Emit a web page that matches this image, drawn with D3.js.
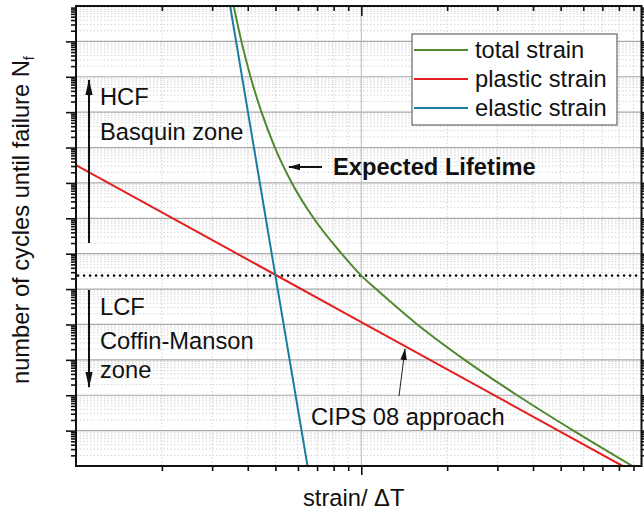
<!DOCTYPE html>
<html><head><meta charset="utf-8">
<script src="https://cdn.jsdelivr.net/npm/d3@7"></script>
<style>body{margin:0;background:#fff}svg{display:block}text{font-family:"Liberation Sans",Arial,sans-serif;fill:#111}</style>
</head><body><svg id="c" width="644" height="512"></svg>
<script>
// ---- data (arbitrary log units, no tick labels) ----
const plasticStrain = [0.1, 1, 8.24];
const plasticCycles = [3.2e8, 1.17e4, 1];
const elasticStrain = [0.347, 0.5, 0.648];
const elasticCycles = [1e13, 2.4e5, 1];
const totalStrain = [0.357, 0.380, 0.409, 0.447, 0.498, 0.571, 0.681, 0.853, 1.0, 1.127, 1.572, 2.304, 3.519, 5.541, 8.92];
const totalCycles = [1e13, 1e12, 1e11, 1e10, 1e9, 1e8, 1e7, 1e6, 2.4e5, 1e5, 1e4, 1e3, 1e2, 1e1, 1];
const thresholdCycles = 2.4e5;
const seriesNames = ["total strain", "plastic strain", "elastic strain"];
const seriesColors = ["#4f8a31", "#e3201f", "#1a7d9e"];

const FS = 23.7;
const svg = d3.select("#c");
const L = 76, R = 641.5, T = 6, B = 466;
const x = d3.scaleLog().domain([0.1, 9.6]).range([L, R]);
const y = d3.scaleLog().domain([1, 1e13]).range([B, T]);

const isPow = v => Math.abs(Math.log10(v) - Math.round(Math.log10(v))) < 1e-9;
const xAll = x.ticks(20).filter(v => v > 0.1 && v < 9.6);
const xMajor = xAll.filter(isPow);
const xMinor = xAll.filter(v => !isPow(v));
const yAll = y.ticks(20);
const yMajor = yAll.filter(v => isPow(v) && v > 1 && v < 1e13);
const yMinor = yAll.filter(v => !isPow(v));

// minor grid
const g = svg.append("g");
g.selectAll(".hmin").data(yMinor).join("line")
  .attr("x1", L).attr("x2", R).attr("y1", d => y(d)).attr("y2", d => y(d))
  .attr("stroke", "#d4d4d4").attr("stroke-width", 1).attr("stroke-dasharray", "1.5,2");
g.selectAll(".vmin").data(xMinor).join("line")
  .attr("y1", T).attr("y2", B).attr("x1", d => x(d)).attr("x2", d => x(d))
  .attr("stroke", "#d4d4d4").attr("stroke-width", 1).attr("stroke-dasharray", "1.5,2");
// major grid
g.selectAll(".hmaj").data(yMajor).join("line")
  .attr("x1", L).attr("x2", R).attr("y1", d => y(d)).attr("y2", d => y(d))
  .attr("stroke", "#a8a8a8").attr("stroke-width", 1.2);
g.selectAll(".vmaj").data(xMajor).join("line")
  .attr("y1", T).attr("y2", B).attr("x1", d => x(d)).attr("x2", d => x(d))
  .attr("stroke", "#b8b8b8").attr("stroke-width", 1);

// clip
svg.append("clipPath").attr("id", "clip").append("rect")
  .attr("x", L).attr("y", T).attr("width", R - L).attr("height", B - T);
const plot = svg.append("g").attr("clip-path", "url(#clip)");

// threshold dotted line
plot.append("line").attr("x1", L + 2).attr("x2", R).attr("y1", y(thresholdCycles)).attr("y2", y(thresholdCycles))
  .attr("stroke", "#111").attr("stroke-width", 2.6).attr("stroke-linecap", "round")
  .attr("stroke-dasharray", "0.1,5.9");

const line = d3.line().x(d => x(d[0])).y(d => y(d[1])).curve(d3.curveMonotoneX);
const series = [
  d3.zip(totalStrain, totalCycles),
  d3.zip(plasticStrain, plasticCycles),
  d3.zip(elasticStrain, elasticCycles)
];
plot.selectAll(".s").data(series).join("path")
  .attr("d", line).attr("fill", "none")
  .attr("stroke", (d, i) => seriesColors[i]).attr("stroke-width", 2);

// axes (no labels)
svg.append("g").attr("transform", `translate(${L},0)`)
  .call(d3.axisLeft(y).tickValues(yMajor).tickSize(10).tickFormat(""))
  .call(a => a.select(".domain").remove());
svg.append("g").attr("transform", `translate(${L},0)`)
  .call(d3.axisLeft(y).tickValues(yMinor).tickSize(5).tickFormat(""))
  .call(a => a.select(".domain").remove());
svg.append("g").attr("transform", `translate(${R},0)`)
  .call(d3.axisLeft(y).tickValues(yMajor).tickSize(7).tickFormat(""))
  .call(a => a.select(".domain").remove()).selectAll("line").attr("x2", 7);
svg.append("g").attr("transform", `translate(${R},0)`)
  .call(d3.axisLeft(y).tickValues(yMinor).tickSize(4).tickFormat(""))
  .call(a => a.select(".domain").remove()).selectAll("line").attr("x2", 4);
svg.append("g").attr("transform", `translate(0,${B})`)
  .call(d3.axisBottom(x).tickValues(xMajor).tickSize(9).tickFormat(""))
  .call(a => a.select(".domain").remove());
svg.append("g").attr("transform", `translate(0,${B})`)
  .call(d3.axisBottom(x).tickValues(xMinor).tickSize(5).tickFormat(""))
  .call(a => a.select(".domain").remove());
svg.append("g").attr("transform", `translate(0,${T})`)
  .call(d3.axisBottom(x).tickValues(xMajor).tickSize(10).tickFormat(""))
  .call(a => a.select(".domain").remove());
svg.append("g").attr("transform", `translate(0,${T})`)
  .call(d3.axisBottom(x).tickValues(xMinor).tickSize(5).tickFormat(""))
  .call(a => a.select(".domain").remove());
svg.selectAll(".tick line").attr("stroke", "#111").attr("stroke-width", 1.6);

// frame
svg.append("rect").attr("x", L).attr("y", T).attr("width", R - L).attr("height", B - T)
  .attr("fill", "none").attr("stroke", "#111").attr("stroke-width", 2);

// legend
const lg = svg.append("g");
lg.append("rect").attr("x", 412).attr("y", 34).attr("width", 205).attr("height", 91)
  .attr("fill", "#fff").attr("stroke", "#666").attr("stroke-width", 1.2);
seriesNames.forEach((n, i) => {
  const ly = 50 + i * 29;
  lg.append("line").attr("x1", 414).attr("x2", 468).attr("y1", ly).attr("y2", ly)
    .attr("stroke", seriesColors[i]).attr("stroke-width", 2);
  lg.append("text").attr("x", 475).attr("y", ly + 7.5).attr("font-size", FS).text(n);
});

// markers
const defs = svg.append("defs");
defs.append("marker").attr("id", "ah").attr("markerUnits", "userSpaceOnUse")
  .attr("viewBox", "0 -5 16 10").attr("refX", 15).attr("refY", 0)
  .attr("markerWidth", 16).attr("markerHeight", 10).attr("orient", "auto")
  .append("path").attr("d", "M0,-3.6L16,0L0,3.6Z").attr("fill", "#111");
defs.append("marker").attr("id", "ah2").attr("markerUnits", "userSpaceOnUse")
  .attr("viewBox", "0 -4 12 8").attr("refX", 11).attr("refY", 0)
  .attr("markerWidth", 12).attr("markerHeight", 8).attr("orient", "auto")
  .append("path").attr("d", "M0,-3.2L12,0L0,3.2Z").attr("fill", "#111");

// annotations
svg.append("line").attr("x1", 89).attr("x2", 89).attr("y1", 243).attr("y2", 80)
  .attr("stroke", "#111").attr("stroke-width", 2).attr("marker-end", "url(#ah)");
svg.append("line").attr("x1", 89).attr("x2", 89).attr("y1", 290).attr("y2", 387)
  .attr("stroke", "#111").attr("stroke-width", 2).attr("marker-end", "url(#ah)");
svg.append("line").attr("x1", 322).attr("x2", 289).attr("y1", 167).attr("y2", 167)
  .attr("stroke", "#111").attr("stroke-width", 2).attr("marker-end", "url(#ah2)");
svg.append("line").attr("x1", 399).attr("x2", 405).attr("y1", 396).attr("y2", 349)
  .attr("stroke", "#222").attr("stroke-width", 1).attr("marker-end", "url(#ah2)");

const txt = (s, tx, ty, opts = {}) => svg.append("text").attr("x", tx).attr("y", ty)
  .attr("font-size", opts.size || FS).attr("font-weight", opts.bold ? "bold" : null).text(s);
txt("HCF", 100, 105);
txt("Basquin zone", 100, 140);
txt("LCF", 100, 315);
txt("Coffin-Manson", 100, 349);
txt("zone", 100, 378);
txt("Expected Lifetime", 333, 175, {bold: true});
txt("CIPS 08 approach", 311, 425);
txt("strain/ \u0394T", 303, 506);

const yl = svg.append("text").attr("transform", "translate(29,384) rotate(-90)")
  .attr("font-size", FS);
yl.append("tspan").text("number of cycles until failure N");
yl.append("tspan").attr("font-size", 14).attr("dy", 5).text("f");
</script></body></html>
